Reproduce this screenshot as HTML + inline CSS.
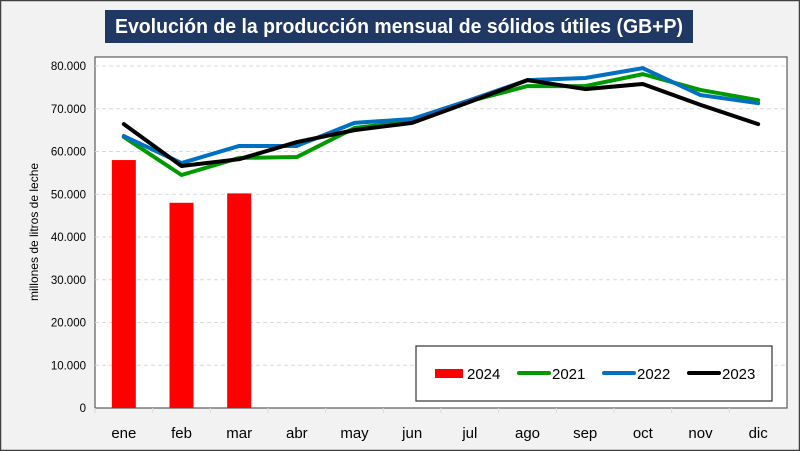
<!DOCTYPE html>
<html><head><meta charset="utf-8"><style>
body{margin:0;background:#fff}
svg{display:block;font-family:"Liberation Sans",sans-serif}
</style></head><body>
<svg width="800" height="451" viewBox="0 0 800 451">
<rect x="0.5" y="0.5" width="799" height="450" fill="#f2f2f2" stroke="#404040" stroke-width="1.5"/>
<rect x="105" y="10" width="588" height="33" fill="#1f3864"/>
<text x="399" y="33" text-anchor="middle" fill="#fff" font-size="20" font-weight="bold" textLength="568" lengthAdjust="spacingAndGlyphs">Evolución de la producción mensual de sólidos útiles (GB+P)</text>
<rect x="95" y="57" width="692" height="351" fill="#fff" stroke="#595959" stroke-width="1.2"/>
<g id="grid"></g><g id="bars"></g><g id="lines"></g><g id="axes"></g>
<text transform="translate(38,232) rotate(-90)" text-anchor="middle" font-size="12" fill="#000">millones de litros de leche</text>
<g>
<rect x="416" y="346" width="356" height="55" fill="#fff" stroke="#333" stroke-width="1.2"/>
<rect x="435" y="369" width="28" height="9" fill="#ff0000"/>
<text x="467" y="379" font-size="15">2024</text>
<line x1="519" y1="373" x2="549" y2="373" stroke="#009900" stroke-width="4" stroke-linecap="round"/>
<text x="552" y="379" font-size="15">2021</text>
<line x1="604" y1="373" x2="634" y2="373" stroke="#0070c0" stroke-width="4" stroke-linecap="round"/>
<text x="637" y="379" font-size="15">2022</text>
<line x1="689" y1="373" x2="719" y2="373" stroke="#000" stroke-width="4" stroke-linecap="round"/>
<text x="722" y="379" font-size="15">2023</text>
</g>
</svg>
<script>
const categories=["ene","feb","mar","abr","may","jun","jul","ago","sep","oct","nov","dic"];
const values2024=[58000,48000,50200];
const values2021=[63400,54500,58500,58700,65500,67100,71800,75300,75300,78100,74400,72000];
const values2022=[63600,57300,61300,61300,66700,67600,72000,76700,77200,79500,73200,71300];
const values2023=[66400,56600,58200,62200,65000,66700,71600,76700,74600,75800,70900,66400];
const yTicks=[0,10000,20000,30000,40000,50000,60000,70000,80000];
const yTickLabels=["0","10.000","20.000","30.000","40.000","50.000","60.000","70.000","80.000"];
const NS="http://www.w3.org/2000/svg";
const x0=95,x1=787,y0=408,yTop=66,vmax=80000;
const step=(x1-x0)/categories.length;
const xs=i=>x0+step*(i+0.5);
const ys=v=>y0-(v/vmax)*(y0-yTop);
function mk(t,a,p){const e=document.createElementNS(NS,t);for(const k in a)e.setAttribute(k,a[k]);p.appendChild(e);return e;}
const grid=document.getElementById('grid'),axes=document.getElementById('axes'),bars=document.getElementById('bars'),lines=document.getElementById('lines');
yTicks.forEach((v,i)=>{
  if(v>0){const l=mk('line',{x1:x0,x2:x1,y1:ys(v),y2:ys(v),stroke:'#d9d9d9','stroke-dasharray':'4,3'},grid);
  
  }
  const t=mk('text',{x:86,y:ys(v)+4,'text-anchor':'end','font-size':'11.5'},axes);
  t.textContent=yTickLabels[i];
  
  
});
categories.forEach((c,i)=>{
  const tk=mk('line',{x1:x0+step*i,x2:x0+step*i,y1:y0,y2:y0+5,stroke:'#d9d9d9'},axes);
  
  
  const t=mk('text',{x:xs(i),y:438,'text-anchor':'middle','font-size':'15'},axes);
  t.textContent=c;
  
  
});
values2024.forEach((v,i)=>{
  const r=mk('rect',{x:xs(i)-12,y:ys(v),width:24,height:y0-ys(v),fill:'#ff0000'},bars);
  
  
});
[[values2021,'#009900','2021'],[values2022,'#0070c0','2022'],[values2023,'#000000','2023']].forEach(([vals,col,n])=>{
  const p=mk('polyline',{points:vals.map((v,i)=>xs(i)+','+ys(v)).join(' '),fill:'none',stroke:col,'stroke-width':4,'stroke-linejoin':'round','stroke-linecap':'round'},lines);
  
  
});
</script>
</body></html>
